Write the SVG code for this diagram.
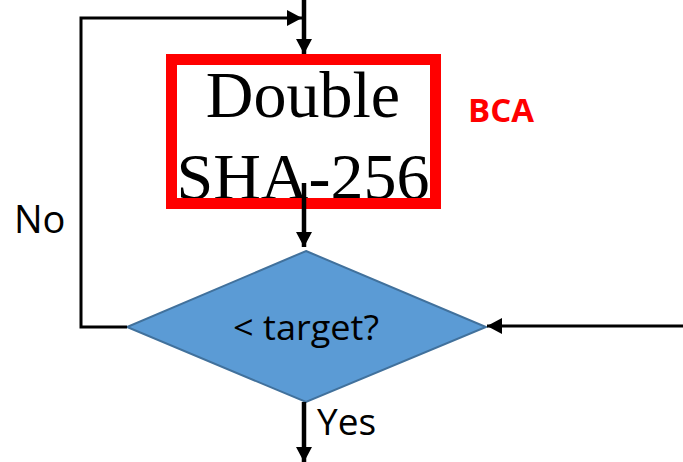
<svg xmlns="http://www.w3.org/2000/svg" width="683" height="462" viewBox="0 0 683 462">
<style>
.conn{fill:none;stroke:#000;stroke-width:3}
.v{stroke-width:4.5}
.lbl{font-family:"Open Sans","Noto Sans","Liberation Sans",sans-serif;fill:#000}
</style>
<defs>
<marker id="ah" markerUnits="userSpaceOnUse" markerWidth="16" markerHeight="16" refX="15" refY="8" orient="auto" viewBox="0 0 16 16">
<path d="M0,0 L15,8 L0,16 z" fill="#000"/>
</marker>
</defs>
<rect width="683" height="462" fill="#fff"/>
<g id="hash">
<rect x="171.5" y="59.5" width="264" height="144" fill="#fff"/>
<text x="303" y="117" font-family="'Liberation Serif','Times New Roman',serif" font-size="66" text-anchor="middle">Double</text>
<text x="303" y="199" font-family="'Liberation Serif','Times New Roman',serif" font-size="66" text-anchor="middle">SHA-256</text>
<rect x="171.5" y="59.5" width="264" height="144" fill="none" stroke="#FF0000" stroke-width="11"/>
</g>
<g id="bca">
<text x="501" y="122" class="lbl" font-size="33" font-weight="bold" style="fill:#FF0000" text-anchor="middle">BCA</text>
</g>
<g id="decision">
<polygon points="306,251 486,327 306,402 127,327" fill="#5B9BD5" stroke="#41719C" stroke-width="2"/>
<text x="306" y="340" class="lbl" font-size="34" text-anchor="middle" textLength="146" lengthAdjust="spacingAndGlyphs">&lt; target?</text>
</g>
<g id="labels">
<text x="14" y="233" class="lbl" font-size="38">No</text>
<text x="317" y="435" class="lbl" font-size="37">Yes</text>
</g>
<g id="connectors">
<line class="conn v" x1="304" y1="0" x2="304" y2="54" marker-end="url(#ah)"/>
<polyline class="conn" points="127,327 81,327 81,18 302,18" marker-end="url(#ah)"/>
<line class="conn v" x1="304" y1="183" x2="304" y2="247" marker-end="url(#ah)"/>
<line class="conn" x1="683" y1="326" x2="487" y2="326" marker-end="url(#ah)"/>
<line class="conn v" x1="304" y1="402" x2="304" y2="462" marker-end="url(#ah)"/>
</g>
</svg>
